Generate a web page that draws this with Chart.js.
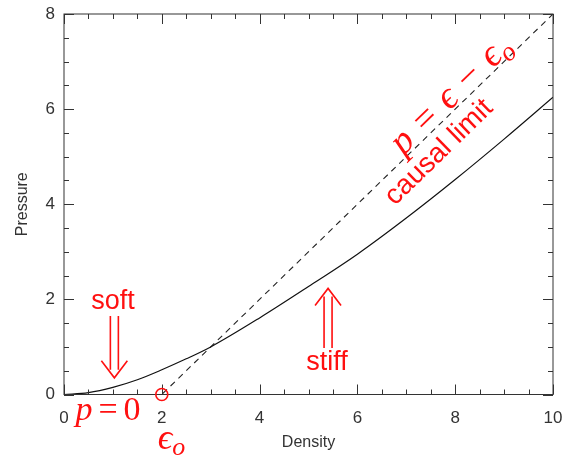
<!DOCTYPE html>
<html>
<head>
<meta charset="utf-8">
<script src="https://cdn.jsdelivr.net/npm/chart.js@4"></script>
<style>
  body { margin: 0; background: #fff; }
  #wrap { width: 563px; height: 456px; }
</style>
</head>
<body>
<div id="wrap"><canvas id="eos" width="563" height="456"></canvas></div>
<script>
// equation of state curve
const density = [0, 0.5, 1, 1.5, 2, 2.5, 3, 4, 5, 6, 7, 8, 9, 10];
const pressure = [0, 0.04, 0.15, 0.31, 0.52, 0.75, 1.0, 1.61, 2.27, 2.95, 3.71, 4.52, 5.37, 6.25];

// causal limit p = e - e0 (flat p = 0 below e0)
const causalX = [0, 2, 10];
const causalY = [0, 0, 8];

const xTicks = [0, 2, 4, 6, 8, 10];
const yTicks = [0, 2, 4, 6, 8];
const minorStep = 0.5;

const RED = '#ff1010';
const AXIS = '#333';

function pts(xs, ys) {
  return xs.map((x, i) => ({ x, y: ys[i] }));
}

// frame + inward ticks on all four sides, IDL style
const framePlugin = {
  id: 'frame',
  afterDatasetsDraw(chart) {
    const { ctx, chartArea: a, scales: { x, y } } = chart;
    ctx.save();
    ctx.strokeStyle = AXIS;
    ctx.lineWidth = 1;
    ctx.strokeRect(a.left, a.top, a.right - a.left, a.bottom - a.top);
    ctx.beginPath();
    for (let v = x.min; v <= x.max + 1e-9; v += minorStep) {
      const px = Math.round(x.getPixelForValue(v)) + 0.5;
      const len = xTicks.includes(v) ? 10 : 5;
      ctx.moveTo(px, a.bottom); ctx.lineTo(px, a.bottom - len);
      ctx.moveTo(px, a.top); ctx.lineTo(px, a.top + len);
    }
    for (let v = y.min; v <= y.max + 1e-9; v += minorStep) {
      const py = Math.round(y.getPixelForValue(v)) + 0.5;
      const len = yTicks.includes(v) ? 10 : 5;
      ctx.moveTo(a.left, py); ctx.lineTo(a.left + len, py);
      ctx.moveTo(a.right, py); ctx.lineTo(a.right - len, py);
    }
    ctx.stroke();
    ctx.restore();
  }
};

function doubleArrow(ctx, cx, yFrom, yTo) {
  // yFrom = tail, yTo = tip
  const dir = yTo > yFrom ? 1 : -1;
  ctx.beginPath();
  ctx.moveTo(cx - 4, yFrom); ctx.lineTo(cx - 4, yTo - dir * 8);
  ctx.moveTo(cx + 4, yFrom); ctx.lineTo(cx + 4, yTo - dir * 8);
  ctx.moveTo(cx - 13, yTo - dir * 17);
  ctx.lineTo(cx, yTo);
  ctx.lineTo(cx + 13, yTo - dir * 17);
  ctx.stroke();
}

// draw pieces of a formula left to right, centred on (0,0)
function formula(ctx, parts) {
  ctx.textAlign = 'left';
  let w = 0;
  parts.forEach(p => { ctx.font = p.font; p.w = ctx.measureText(p.t).width + (p.gap || 0); w += p.w; });
  let cx = -w / 2;
  parts.forEach(p => {
    ctx.font = p.font;
    ctx.fillText(p.t, cx, p.dy || 0);
    cx += p.w;
  });
}

const notePlugin = {
  id: 'notes',
  afterDraw(chart) {
    const { ctx, scales: { x, y } } = chart;
    const X = v => x.getPixelForValue(v);
    const Y = v => y.getPixelForValue(v);
    const serif = '"Liberation Serif", "DejaVu Serif", serif';
    ctx.save();
    ctx.fillStyle = RED;
    ctx.strokeStyle = RED;
    ctx.lineWidth = 1.6;
    ctx.textAlign = 'center';
    ctx.textBaseline = 'middle';

    ctx.font = '27px "Liberation Sans", Arial, sans-serif';
    ctx.fillText('soft', X(1.0), Y(1.95));
    ctx.fillText('stiff', X(5.38), Y(0.68));
    doubleArrow(ctx, X(1.03), Y(1.65), Y(0.35));
    doubleArrow(ctx, X(5.4), Y(0.98), Y(2.23));

    // e0 marker
    ctx.beginPath();
    ctx.arc(X(2), Y(0), 6, 0, Math.PI * 2);
    ctx.stroke();

    ctx.textBaseline = 'alphabetic';
    ctx.save();
    ctx.translate(X(0.9), Y(-0.33) + 10);
    formula(ctx, [
      { t: 'p', font: 'italic 34px ' + serif, gap: 6 },
      { t: '=', font: '34px ' + serif, gap: 6 },
      { t: '0', font: '34px ' + serif }
    ]);
    ctx.restore();

    ctx.save();
    ctx.translate(X(2.2), Y(-0.95) + 9);
    formula(ctx, [
      { t: 'ϵ', font: 'italic 36px ' + serif },
      { t: 'o', font: 'italic 26px ' + serif, dy: 6 }
    ]);
    ctx.restore();

    // labels along the causal line
    const ang = Math.atan2(Y(8) - Y(0), X(10) - X(2));
    ctx.save();
    ctx.translate(X(7.67), Y(5.09));
    ctx.rotate(ang);
    ctx.textAlign = 'center';
    ctx.textBaseline = 'middle';
    ctx.font = '28px "Liberation Sans", Arial, sans-serif';
    ctx.fillText('causal limit', 0, 0);
    ctx.restore();

    ctx.save();
    ctx.translate(X(7.91), Y(6.31));
    ctx.rotate(ang);
    ctx.translate(0, 11);
    formula(ctx, [
      { t: 'p', font: 'italic 38px ' + serif, gap: 12 },
      { t: '=', font: '38px ' + serif, gap: 12 },
      { t: 'ϵ', font: 'italic 38px ' + serif, gap: 12 },
      { t: '−', font: '38px ' + serif, gap: 12 },
      { t: 'ϵ', font: 'italic 38px ' + serif },
      { t: 'o', font: 'italic 27px ' + serif, dy: 7 }
    ]);
    ctx.restore();

    ctx.restore();
  }
};

new Chart(document.getElementById('eos'), {
  type: 'line',
  data: {
    datasets: [
      {
        label: 'EOS',
        data: pts(density, pressure),
        borderColor: '#111',
        borderWidth: 1.2,
        pointRadius: 0,
        cubicInterpolationMode: 'monotone',
        fill: false
      },
      {
        label: 'causal limit',
        data: pts(causalX, causalY),
        borderColor: '#222',
        borderWidth: 1.1,
        borderDash: [6, 5],
        pointRadius: 0,
        tension: 0,
        fill: false
      }
    ]
  },
  options: {
    responsive: false,
    animation: false,
    devicePixelRatio: 1,
    layout: { padding: { top: 14, right: 10, left: 0, bottom: 0 } },
    plugins: {
      legend: { display: false },
      tooltip: { enabled: false }
    },
    scales: {
      x: {
        type: 'linear',
        min: 0,
        max: 10,
        afterFit: s => { s.height = 61.5; s.paddingLeft = 0; s.paddingRight = 0; },
        afterBuildTicks: s => { s.ticks = xTicks.map(v => ({ value: v })); },
        grid: { display: false, drawTicks: false },
        border: { display: false },
        ticks: {
          padding: 14,
          color: AXIS,
          font: { family: '"Liberation Sans", Arial, sans-serif', size: 17 }
        },
        title: {
          display: true,
          text: 'Density',
          color: AXIS,
          padding: { top: 0, bottom: 4 },
          font: { family: '"Liberation Sans", Arial, sans-serif', size: 16 }
        }
      },
      y: {
        type: 'linear',
        min: 0,
        max: 8,
        afterFit: s => { s.width = 64; s.paddingTop = 0; s.paddingBottom = 0; },
        afterBuildTicks: s => { s.ticks = yTicks.map(v => ({ value: v })); },
        grid: { display: false, drawTicks: false },
        border: { display: false },
        ticks: {
          padding: 9,
          color: AXIS,
          font: { family: '"Liberation Sans", Arial, sans-serif', size: 17 }
        },
        title: {
          display: true,
          text: 'Pressure',
          color: AXIS,
          padding: { top: 13, bottom: 0 },
          font: { family: '"Liberation Sans", Arial, sans-serif', size: 16 }
        }
      }
    }
  },
  plugins: [framePlugin, notePlugin]
});
</script>
</body>
</html>
